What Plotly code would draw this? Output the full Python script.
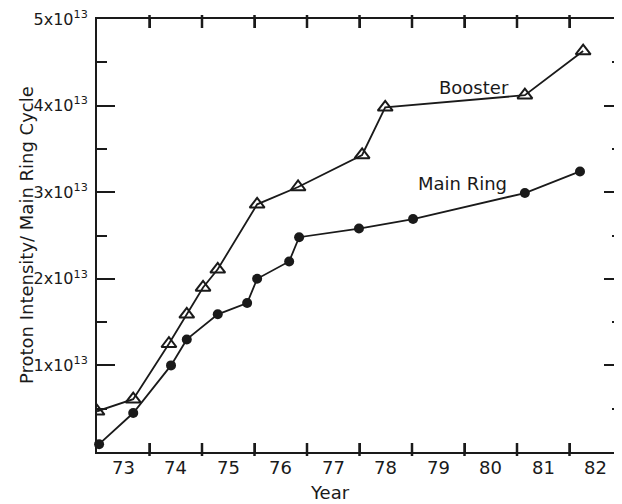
import plotly.graph_objects as go

# Data (year, protons per main ring cycle)
booster_year = [73.0, 73.69, 74.37, 74.71, 75.02, 75.30, 76.05, 76.83, 78.05, 78.49, 81.15, 82.26]
booster_val = [0.47e13, 0.61e13, 1.25e13, 1.59e13, 1.90e13, 2.11e13, 2.86e13, 3.06e13, 3.43e13, 3.98e13, 4.12e13, 4.63e13]

mainring_year = [73.04, 73.69, 74.41, 74.71, 75.30, 75.86, 76.05, 76.66, 76.85, 77.99, 79.02, 81.15, 82.20]
mainring_val = [0.09e13, 0.45e13, 1.00e13, 1.30e13, 1.59e13, 1.72e13, 2.00e13, 2.20e13, 2.48e13, 2.58e13, 2.69e13, 2.99e13, 3.24e13]

year_labels = ["73", "74", "75", "76", "77", "78", "79", "80", "81", "82"]
year_label_pos = [73.5, 74.5, 75.5, 76.5, 77.5, 78.5, 79.5, 80.5, 81.5, 82.5]
year_ticks = [74, 75, 76, 77, 78, 79, 80, 81, 82]

y_tickvals = [1e13, 2e13, 3e13, 4e13, 5e13]
y_ticktext = ["1x10<sup>13</sup>", "2x10<sup>13</sup>", "3x10<sup>13</sup>", "4x10<sup>13</sup>", "5x10<sup>13</sup>"]
y_minor = [0.5e13, 1.5e13, 2.5e13, 3.5e13, 4.5e13]

INK = "#1a1a1a"
FONT = "DejaVu Sans"
PLOT_H = 433  # plot-area height in px
IN = 9 / PLOT_H
OUT = 4 / PLOT_H

fig = go.Figure()
fig.add_trace(go.Scatter(
    x=booster_year, y=booster_val, mode="lines+markers",
    line=dict(color=INK, width=1.8),
    marker=dict(symbol="triangle-up-open", size=13, color=INK, line=dict(width=2)),
    cliponaxis=True, showlegend=False,
))
fig.add_trace(go.Scatter(
    x=mainring_year, y=mainring_val, mode="lines+markers",
    line=dict(color=INK, width=1.8),
    marker=dict(symbol="circle", size=10, color=INK),
    cliponaxis=False, showlegend=False,
))

annotations = [
    dict(text=lab, x=pos, y=-0.036, xref="x", yref="paper", yanchor="middle",
         showarrow=False, font=dict(size=18))
    for lab, pos in zip(year_labels, year_label_pos)
]
annotations += [
    dict(text="Booster", x=80.18, y=4.21e13, xref="x", yref="y",
         showarrow=False, font=dict(size=18)),
    dict(text="Main Ring", x=79.97, y=3.10e13, xref="x", yref="y",
         showarrow=False, font=dict(size=18)),
    dict(text="Year", x=77.44, y=-0.0924, xref="x", yref="paper", yanchor="middle",
         showarrow=False, font=dict(size=18)),
    dict(text="Proton Intensity/ Main Ring Cycle", x=-0.158, y=0.5, xref="paper",
         yref="paper", textangle=-90, showarrow=False, font=dict(size=18)),
]

# year-boundary tick marks crossing the bottom and top frame edges
shapes = []
for yr in year_ticks:
    shapes.append(dict(type="line", xref="x", yref="paper", x0=yr, x1=yr, y0=-OUT, y1=IN,
                       line=dict(color=INK, width=2.5), layer="above"))
    shapes.append(dict(type="line", xref="x", yref="paper", x0=yr, x1=yr, y0=1 + OUT,
                       y1=1 - IN, line=dict(color=INK, width=2.5), layer="above"))

fig.update_layout(
    width=614, height=496,
    margin=dict(l=89, r=0, t=11, b=52),
    paper_bgcolor="white", plot_bgcolor="white",
    font=dict(family=FONT, color=INK, size=15),
    xaxis=dict(
        range=[73, 83], tickmode="array", tickvals=year_ticks,
        ticktext=[""] * len(year_ticks),
        ticks="inside", ticklen=9, tickwidth=2, tickcolor=INK,
        showline=True, linecolor=INK, linewidth=2, mirror="ticks",
        showgrid=False, zeroline=False, automargin=False,
    ),
    yaxis=dict(
        range=[0, 5e13], tickmode="array", tickvals=y_tickvals, ticktext=y_ticktext,
        ticks="inside", ticklen=18, tickwidth=2, tickcolor=INK,
        minor=dict(tickmode="array", tickvals=y_minor, ticks="inside", ticklen=10,
                   tickwidth=2, tickcolor=INK, showgrid=False),
        showline=True, linecolor=INK, linewidth=2, mirror="ticks",
        showgrid=False, zeroline=False, tickfont=dict(size=16), ticklabelstandoff=4,
        automargin=False, ticklabeloverflow="allow",
    ),
    annotations=annotations,
    shapes=shapes,
)

fig.write_html("out.html")
